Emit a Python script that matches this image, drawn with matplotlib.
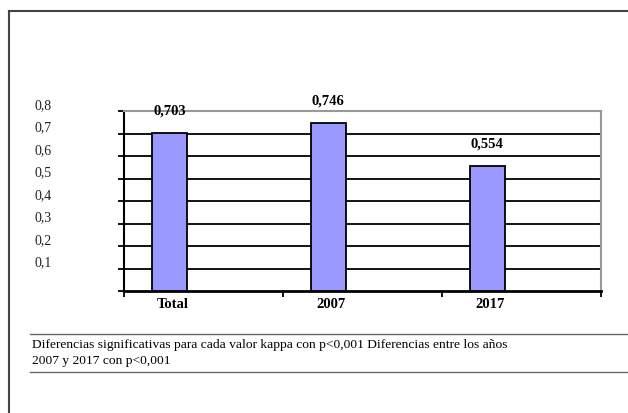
import matplotlib
matplotlib.use("Agg")
import matplotlib.pyplot as plt
import matplotlib.transforms as mtransforms
from matplotlib.lines import Line2D
import numpy as np

categories = ['Total', '2007', '2017']
kappa = [0.703, 0.746, 0.554]
value_labels = ['0,703', '0,746', '0,554']
y_ticks = [0.1, 0.2, 0.3, 0.4, 0.5, 0.6, 0.7, 0.8]
y_tick_labels = ['0,1', '0,2', '0,3', '0,4', '0,5', '0,6', '0,7', '0,8']
footnote = ("Diferencias significativas para cada valor kappa con p<0,001 Diferencias entre los años\n"
            "2007 y 2017 con p<0,001")

BAR_COLOR = '#9999ff'
SERIF = ['Liberation Serif', 'DejaVu Serif']
W, H = 628, 414

fig = plt.figure(figsize=(6.28, 4.14), dpi=100)
ax = fig.add_axes([124 / W, 1 - 292 / H, (601 - 124) / W, (292 - 112) / H])

# bars sit a bit left of the category centre, as in the original
x = np.arange(len(categories)) + 0.285
ax.bar(x, kappa, width=0.22, color=BAR_COLOR, edgecolor='black', linewidth=1.3, zorder=3)

for xi, v, lab in zip(x, kappa, value_labels):
    ax.annotate(lab, (xi, v), xytext=(0, 16.5), textcoords='offset points',
                ha='center', va='center', fontsize=10.5, fontweight='bold', family=SERIF)

ax.set_xlim(0, 3)
ax.set_ylim(0, 0.8)

# horizontal gridlines
for yv in y_ticks[:-1]:
    ax.axhline(yv, color='black', linewidth=1.3, zorder=1)

# y ticks: marks at every gridline, labels shifted up and far left
ax.set_yticks([0] + y_ticks)
ax.set_yticklabels([''] + y_tick_labels, family=SERIF, fontsize=10, color='#222222')
ax.tick_params(axis='y', direction='out', length=4, width=1.3, pad=48)
shift = mtransforms.ScaledTranslation(0, 8 / 100, fig.dpi_scale_trans)
for lbl in ax.get_yticklabels():
    lbl.set_transform(lbl.get_transform() + shift)

# x ticks: marks at boundaries, labels under the bars
ax.set_xticks([0, 1, 2, 3])
ax.set_xticklabels([])
ax.set_xticks(x + 0.02, minor=True)
ax.set_xticklabels(categories, minor=True, family=SERIF, fontsize=10.5, fontweight='bold')
ax.tick_params(axis='x', which='major', direction='out', length=4, width=1.3)
ax.tick_params(axis='x', which='minor', length=0, pad=4.5)

ax.spines['left'].set_linewidth(1.5)
ax.spines['bottom'].set_linewidth(2)
ax.spines['top'].set_color('#999999')
ax.spines['top'].set_linewidth(1.5)
ax.spines['right'].set_color('#999999')
ax.spines['right'].set_linewidth(1.5)

# outer frame (top and left)
fig.add_artist(Line2D([9 / W, 1], [1 - 12 / H, 1 - 12 / H], color='#444444', linewidth=1.5))
fig.add_artist(Line2D([9 / W, 9 / W], [1 - 12 / H, 0], color='#444444', linewidth=1.5))

# footnote with rules above and below
fig.add_artist(Line2D([30 / W, 1], [1 - 335 / H, 1 - 335 / H], color='#666666', linewidth=1))
fig.add_artist(Line2D([30 / W, 1], [1 - 373 / H, 1 - 373 / H], color='#666666', linewidth=1))
fig.text(32 / W, 1 - 339.5 / H, footnote, ha='left', va='top', fontsize=9.7,
         family=SERIF, linespacing=1.38)

fig.savefig('out.png', dpi=100)
